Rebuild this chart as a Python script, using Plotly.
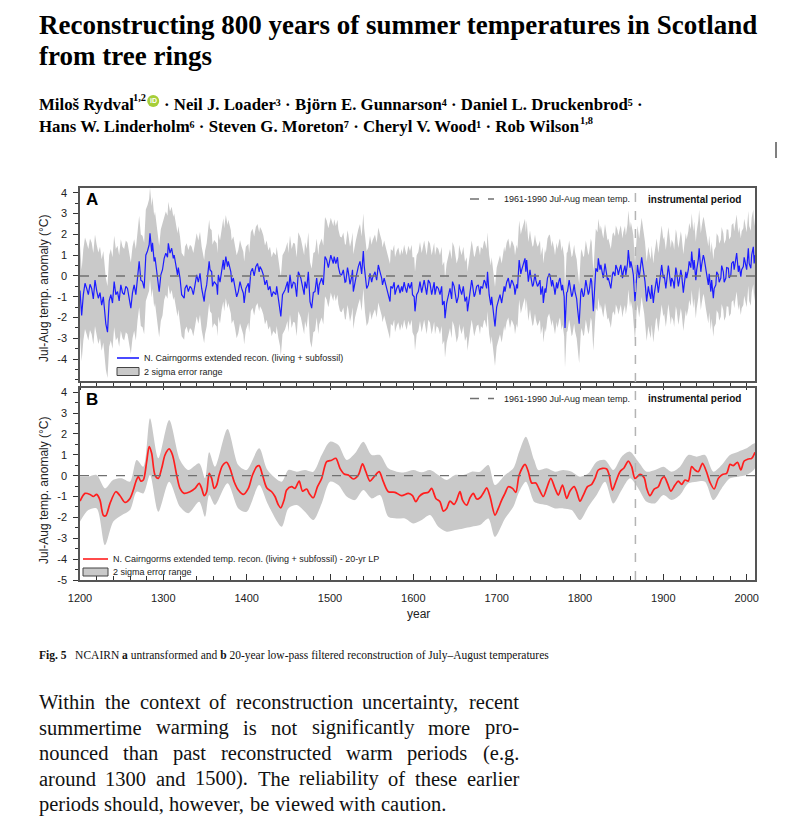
import plotly.graph_objects as go

W, H = 811, 829

# ---------------- data ----------------
years_a = [
    1200, 1202, 1204, 1206, 1208, 1210, 1212, 1214, 1216, 1218,
    1220, 1222, 1224, 1226, 1228, 1229, 1231, 1233, 1235, 1237,
    1239, 1241, 1243, 1245, 1247, 1249, 1251, 1253, 1255, 1257,
    1259, 1261, 1263, 1265, 1267, 1269, 1271, 1273, 1275, 1277,
    1279, 1281, 1283, 1284, 1286, 1287, 1289, 1290, 1292, 1293,
    1295, 1297, 1299, 1301, 1303, 1305, 1306, 1308, 1310, 1312,
    1313, 1315, 1317, 1318, 1320, 1322, 1325, 1326, 1328, 1330,
    1332, 1334, 1336, 1338, 1340, 1342, 1344, 1346, 1349, 1350,
    1352, 1355, 1356, 1358, 1359, 1361, 1364, 1365, 1366, 1368,
    1370, 1372, 1373, 1375, 1377, 1378, 1381, 1382, 1384, 1386,
    1388, 1390, 1392, 1394, 1396, 1397, 1399, 1402, 1403, 1405,
    1407, 1409, 1411, 1413, 1415, 1416, 1418, 1420, 1422, 1424,
    1426, 1428, 1430, 1432, 1435, 1436, 1438, 1440, 1441, 1443,
    1446, 1449, 1450, 1452, 1454, 1456, 1458, 1460, 1462, 1465,
    1467, 1469, 1470, 1472, 1474, 1476, 1478, 1480, 1482, 1484,
    1486, 1487, 1490, 1492, 1494, 1496, 1498, 1499, 1501, 1502,
    1504, 1505, 1507, 1509, 1510, 1512, 1514, 1516, 1518, 1519,
    1521, 1522, 1524, 1526, 1527, 1528, 1530, 1531, 1534, 1536,
    1538, 1540, 1541, 1542, 1544, 1546, 1548, 1550, 1551, 1553,
    1554, 1556, 1558, 1560, 1562, 1563, 1565, 1566, 1568, 1570,
    1572, 1573, 1575, 1577, 1578, 1580, 1582, 1584, 1586, 1587,
    1589, 1590, 1592, 1594, 1596, 1598, 1599, 1601, 1602, 1604,
    1606, 1608, 1610, 1611, 1613, 1614, 1616, 1618, 1620, 1622,
    1623, 1625, 1626, 1628, 1630, 1632, 1634, 1635, 1637, 1638,
    1640, 1642, 1644, 1646, 1647, 1649, 1650, 1652, 1654, 1655,
    1656, 1658, 1660, 1662, 1664, 1665, 1667, 1668, 1670, 1671,
    1673, 1674, 1676, 1678, 1680, 1681, 1683, 1685, 1686, 1688,
    1689, 1691, 1693, 1694, 1696, 1698, 1700, 1702, 1704, 1706,
    1707, 1709, 1710, 1712, 1714, 1716, 1718, 1719, 1721, 1722,
    1724, 1725, 1727, 1729, 1730, 1732, 1734, 1735, 1736, 1738,
    1740, 1741, 1743, 1744, 1746, 1747, 1749, 1750, 1752, 1753,
    1755, 1756, 1758, 1759, 1761, 1763, 1764, 1766, 1767, 1769,
    1770, 1772, 1773, 1775, 1776, 1778, 1779, 1781, 1782, 1784,
    1785, 1787, 1788, 1790, 1791, 1793, 1794, 1796, 1797, 1799,
    1801, 1802, 1804, 1805, 1807, 1808, 1810, 1811, 1813, 1814,
    1816, 1818, 1819, 1821, 1822, 1824, 1825, 1827, 1828, 1830,
    1831, 1833, 1834, 1836, 1837, 1839, 1840, 1842, 1843, 1845,
    1846, 1848, 1849, 1851, 1852, 1854, 1855, 1857, 1858, 1860,
    1861, 1863, 1864, 1866, 1868, 1869, 1871, 1872, 1874, 1875,
    1877, 1878, 1880, 1882, 1883, 1885, 1886, 1888, 1889, 1891,
    1892, 1894, 1895, 1897, 1898, 1900, 1901, 1903, 1904, 1906,
    1907, 1909, 1910, 1912, 1913, 1915, 1916, 1918, 1919, 1921,
    1922, 1924, 1925, 1927, 1928, 1930, 1931, 1933, 1934, 1936,
    1937, 1939, 1940, 1942, 1943, 1945, 1946, 1948, 1949, 1951,
    1952, 1954, 1955, 1957, 1958, 1960, 1961, 1963, 1964, 1966,
    1967, 1969, 1970, 1972, 1973, 1975, 1976, 1978, 1979, 1981,
    1982, 1984, 1985, 1987, 1988, 1990, 1991, 1993, 1994, 1996,
    1997, 1998, 2000, 2002, 2003, 2005, 2006, 2008, 2009, 2010,
]
temp_a = [
    -0.7, -1.9, -0.9, -0.35, -0.6, -0.9, -0.4, -0.6, -1.1, -0.2,
    -0.7, -1.07, -0.8, -1.4, -1.0, -1.55, -2.3, -2.7, -1.2, -0.9,
    -1.3, -0.27, -0.9, -0.75, -1.2, -0.43, -0.8, -0.9, -0.5, -0.6,
    -1.1, -1.55, -0.8, -0.43, -0.9, 0.05, 0.7, -0.2, -0.27, -0.6,
    1.0, 1.2, 1.5, 2.05, 1.17, 1.6, 0.7, 0.9, 0.2, -0.1,
    -0.75, 0.05, 0.3, 0.85, 1.1, 0.9, 1.57, 1.1, 1.33, 0.85,
    1.0, 0.53, 0.05, 0.4, -0.1, -0.9, -1.07, -0.6, -0.43, -0.75,
    -0.5, -0.6, -0.9, -0.43, 0.05, -0.3, 0.13, -0.6, -1.23, -0.8,
    -0.43, 0.7, 0.3, 0.2, -0.5, -0.27, -0.43, -0.9, 0.05, -0.3,
    0.37, 0.77, 0.3, 0.93, 0.45, 0.7, 0.2, -0.3, -0.1, -0.5,
    -1.0, -0.75, -0.27, -0.6, -0.83, -1.3, -0.6, -0.35, -0.8, 0.2,
    0.37, 0.0, 0.45, 0.6, 0.2, 0.45, 0.3, 0.05, -0.43, -0.2,
    -0.67, -0.5, -1.0, -0.75, -0.9, -0.5, -1.07, -1.47, -1.95, -0.9,
    -0.67, -0.27, -0.8, 0.05, -0.6, -0.3, -0.35, -1.0, 0.2, -0.1,
    -0.43, -0.9, -0.27, -0.6, 0.2, -1.23, -1.55, -0.8, -0.75, -0.1,
    -0.9, -0.43, -0.1, -0.43, 0.93, 0.77, 0.4, 0.6, 1.0, 0.85,
    0.6, 0.93, 0.6, 0.9, 0.45, 0.1, 0.05, 0.29, -0.3, -0.27,
    0.4, 0.2, -0.4, -0.03, 0.3, -0.75, -0.2, -0.1, 0.45, 0.7,
    0.1, 1.2, 0.5, 0.05, -0.6, -0.43, 0.13, -0.3, -0.1, 0.1,
    0.2, -0.2, 0.53, 0.2, -0.1, -0.43, -0.1, -0.27, -0.6, -0.9,
    -1.23, -0.5, -0.6, -0.3, -0.9, -0.6, -0.43, -0.83, -0.5, -0.75,
    -0.3, -0.5, -0.8, -0.35, -0.6, -0.3, -0.9, -1.0, -1.7, -0.9,
    -0.75, -0.27, -0.8, -0.6, -0.2, -0.43, -0.9, -0.2, -0.35, -0.9,
    -0.67, -0.3, -0.9, -0.5, -0.6, -0.9, -0.5, -1.4, -1.2, -2.03,
    -1.3, -0.9, -0.6, -1.1, -0.27, -0.5, -0.75, -1.3, -1.0, -0.4,
    -0.6, -0.9, -0.5, -1.23, -1.0, -1.7, -1.1, -0.75, -0.2, -0.43,
    -1.0, -0.9, -0.5, -0.43, -0.9, -0.5, -0.6, -0.2, -0.27, -0.6,
    0.2, -0.9, -1.4, -1.0, -1.63, -2.43, -1.5, -1.23, -0.9, -1.3,
    -1.07, -0.5, -0.75, -0.3, -0.1, -0.6, -0.2, -0.27, -0.5, -0.9,
    -0.4, -0.6, 0.77, 0.1, 0.29, 0.6, 0.85, 0.2, 0.77, -0.27,
    0.3, -0.03, -0.5, -0.43, 0.1, -0.2, -0.5, -0.43, -0.2, -0.9,
    -0.5, -1.3, -0.6, -0.8, -0.1, 0.1, 0.05, -0.5, -0.2, -0.6,
    -0.9, -0.3, -0.6, -0.2, -0.1, -0.7, -0.43, -1.0, -2.5, -0.8,
    -0.75, -0.2, -0.43, -1.0, -0.9, -0.4, -0.75, -1.1, -1.55, -2.3,
    -0.8, -0.6, -1.0, -0.9, -0.2, -0.43, -0.9, -0.75, -0.1, -0.27,
    -1.7, -0.3, 0.37, 0.2, 0.85, 0.3, 0.53, 0.1, -0.1, 0.6,
    0.37, -0.2, -0.1, -0.4, -0.6, 0.1, 0.2, 0.0, 0.53, 0.3,
    0.05, 0.4, 0.53, -0.1, 0.2, 0.5, 0.05, 0.6, 1.25, 0.4,
    0.7, 0.3, 0.05, -1.23, 0.2, 0.53, -0.1, 0.2, 0.9, 0.6,
    0.1, -0.27, -1.23, -0.5, -0.75, -1.1, -0.43, -1.3, -0.9, -0.2,
    -0.1, -0.8, -0.43, 0.1, 0.53, -0.1, 0.05, -0.6, -0.27, 0.5,
    0.2, -0.5, -0.1, -0.3, -0.6, 0.4, 0.2, -0.5, -0.27, 0.3,
    0.05, -0.8, -0.43, 0.2, -0.1, 0.3, 0.7, 0.4, 1.17, 0.3,
    0.77, -0.2, 0.29, 0.8, 1.33, 0.2, 0.53, 1.0, 0.85, 0.3,
    0.2, -0.43, 0.1, -0.75, -0.2, -1.07, -0.6, -0.43, 0.2, 0.05,
    -0.3, -0.1, 0.5, 0.2, -0.3, -0.1, 0.4, 0.37, -0.1, 0.05,
    0.6, 0.7, 0.3, 0.85, 1.1, 0.2, 0.5, -0.03, 0.3, 0.45,
    0.9, 0.7, 0.3, 1.33, 0.6, 0.37, 1.0, 1.4, 0.6, 1.0,
]
# half width of the 2-sigma band, per century
err_a_from = [1200, 1300, 1400, 1500, 1600, 1700, 1800, 1900, 2000]
err_a_half = [2.2, 2.0, 1.9, 1.8, 1.9, 1.9, 1.9, 1.85, 1.8]

years_b = [
    1200, 1206, 1212, 1216, 1220, 1224, 1228, 1231, 1236, 1243,
    1248, 1254, 1260, 1264, 1267, 1270, 1273, 1276, 1280, 1283,
    1286, 1290, 1294, 1298, 1302, 1307, 1311, 1316, 1320, 1325,
    1332, 1338, 1343, 1346, 1349, 1352, 1355, 1358, 1361, 1364,
    1367, 1371, 1376, 1380, 1385, 1390, 1396, 1402, 1407, 1412,
    1415, 1419, 1424, 1430, 1434, 1438, 1441, 1445, 1448, 1454,
    1458, 1463, 1467, 1472, 1475, 1480, 1485, 1490, 1496, 1502,
    1507, 1512, 1517, 1522, 1528, 1534, 1539, 1543, 1548, 1553,
    1559, 1564, 1570, 1578, 1586, 1594, 1599, 1603, 1607, 1612,
    1618, 1622, 1627, 1632, 1636, 1640, 1644, 1649, 1652, 1656,
    1659, 1664, 1668, 1672, 1676, 1680, 1685, 1688, 1692, 1698,
    1702, 1706, 1710, 1714, 1719, 1723, 1727, 1734, 1738, 1742,
    1747, 1751, 1756, 1760, 1765, 1770, 1774, 1779, 1784, 1788,
    1793, 1796, 1800, 1804, 1809, 1814, 1818, 1822, 1827, 1832,
    1835, 1839, 1843, 1848, 1853, 1858, 1862, 1866, 1872, 1877,
    1880, 1884, 1889, 1894, 1898, 1901, 1905, 1909, 1914, 1918,
    1922, 1926, 1930, 1934, 1938, 1942, 1947, 1952, 1956, 1961,
    1966, 1971, 1976, 1980, 1984, 1989, 1993, 1997, 2002, 2006,
    2010,
]
temp_b = [
    -1.22, -0.85, -0.9, -1.0, -0.9, -1.17, -1.9, -1.92, -1.33, -0.77,
    -0.96, -1.28, -1.09, -0.69, -0.29, -0.05, -0.26, -0.21, 0.67, 1.39,
    1.07, 0.03, -0.13, 0.35, 0.99, 1.28, 0.99, 0.03, -0.61, -0.85,
    -0.77, -0.61, -0.37, -0.61, -0.96, -0.77, 0.11, -0.13, -0.61, -0.45,
    0.03, 0.48, 0.64, 0.35, -0.29, -0.69, -0.9, -0.61, 0.03, 0.43,
    0.48, 0.03, -0.58, -0.77, -1.0, -1.4, -1.54, -1.15, -0.69, -0.53,
    -0.61, -0.26, -0.74, -0.64, -0.85, -1.06, -0.53, -0.13, 0.67, 0.74,
    0.83, 0.35, 0.08, 0.03, -0.16, 0.03, 0.56, 0.19, -0.26, -0.05,
    0.19, -0.29, -0.77, -0.8, -0.96, -0.85, -0.96, -1.25, -1.0, -0.85,
    -0.8, -0.61, -1.09, -1.25, -1.7, -1.57, -1.22, -1.38, -1.17, -0.77,
    -1.17, -1.41, -1.06, -0.85, -1.12, -1.06, -0.77, -0.58, -1.0, -1.89,
    -1.57, -1.17, -0.85, -0.53, -0.61, -0.8, 0.03, 0.54, 0.19, -0.35,
    -0.35, -0.65, -1.0, -0.61, -0.13, -0.61, -0.93, -0.45, -1.09, -0.74,
    -0.53, -0.77, -1.22, -0.93, -0.53, -0.42, -0.13, 0.27, 0.35, 0.32,
    0.03, -0.69, -0.29, 0.19, 0.38, 0.7, 0.43, -0.13, 0.06, -0.1,
    -0.61, -0.96, -0.64, -0.53, -0.16, -0.05, -0.37, -0.74, -0.45, -0.26,
    -0.42, -0.21, -0.26, 0.43, 0.27, 0.19, 0.59, 0.16, -0.32, -0.64,
    -0.13, 0.06, 0.11, 0.54, 0.48, 0.64, 0.27, 0.7, 0.8, 0.83,
    1.12,
]
band_years_b = [
    1200, 1210, 1220, 1230, 1240, 1250, 1260, 1268, 1276, 1284,
    1294, 1307, 1320, 1330, 1343, 1350, 1355, 1362, 1377, 1390,
    1400, 1415, 1425, 1442, 1450, 1460, 1470, 1480, 1490, 1500,
    1510, 1520, 1530, 1540, 1550, 1560, 1570, 1580, 1590, 1600,
    1610, 1620, 1630, 1640, 1650, 1660, 1670, 1680, 1690, 1698,
    1710, 1720, 1727, 1735, 1745, 1750, 1760, 1770, 1780, 1790,
    1800, 1810, 1820, 1830, 1840, 1850, 1860, 1870, 1880, 1890,
    1900, 1910, 1920, 1930, 1940, 1950, 1960, 1970, 1980, 1990,
    2000, 2010,
]
band_up_b = [
    -0.05, -0.05, 0.03, -0.61, -0.2, -0.13, -0.29, 0.75, 0.43, 2.75,
    0.83, 2.67, 0.75, 0.27, 0.59, -0.13, 1.12, 0.43, 2.24, 0.51,
    0.27, 1.31, 0.27, -0.29, 0.27, 0.19, 0.27, 0.19, 0.99, 1.63,
    1.47, 0.75, 1.07, 1.63, 0.99, 0.99, 0.35, 0.19, 0.16, 0.27,
    0.16, 0.27, 0.03, -0.21, 0.03, 0.03, 0.19, 0.19, 0.51, -0.45,
    0.03, 0.35, 1.15, 1.87, 0.75, 0.27, 0.35, 0.19, 0.27, 0.19,
    -0.05, 0.11, 0.67, 0.75, 0.27, 0.91, 1.15, 0.67, 0.19, 0.27,
    0.43, 0.19, 0.43, 0.99, 0.91, 0.99, 0.19, 0.51, 0.99, 1.15,
    1.31, 1.55,
]
band_lo_b = [
    -2.2, -1.65, -1.57, -3.33, -2.2, -1.9, -1.65, -0.77, -0.85, 0.03,
    -1.73, -0.29, -1.49, -1.8, -1.25, -1.97, -0.93, -1.41, -0.37, -1.57,
    -1.73, -0.45, -1.33, -2.45, -1.57, -1.41, -1.73, -2.13, -1.33, -0.29,
    -0.45, -1.0, -1.17, -0.69, -1.09, -0.93, -1.97, -2.05, -2.05, -2.29,
    -2.13, -1.89, -2.45, -2.69, -2.61, -2.53, -2.45, -2.37, -2.05, -2.93,
    -2.05, -1.49, -0.77, -0.29, -1.25, -1.33, -1.41, -1.57, -1.57, -1.65,
    -2.13, -1.49, -0.93, -0.29, -1.33, -0.69, -0.13, -0.61, -1.25, -1.33,
    -0.93, -1.17, -0.93, -0.37, -0.29, -0.29, -1.17, -0.61, -0.13, -0.05,
    0.03, 0.35,
]
ref_mean = 0.0              # 1961-1990 Jul-Aug mean
instrumental_start = 1866.5
x_tick_vals = [1200, 1300, 1400, 1500, 1600, 1700, 1800, 1900, 2000]
y_ticks_a = [-4, -3, -2, -1, 0, 1, 2, 3, 4]
y_ticks_b = [-5, -4, -3, -2, -1, 0, 1, 2, 3, 4]

assert len(years_a) == len(temp_a)
assert len(years_b) == len(temp_b)
assert len(band_years_b) == len(band_up_b) == len(band_lo_b)


def half_err(year):
    h = err_a_half[0]
    for start, v in zip(err_a_from, err_a_half):
        if year >= start:
            h = v
    return h


upper_a = [v + half_err(y) for y, v in zip(years_a, temp_a)]
lower_a = [v - half_err(y) for y, v in zip(years_a, temp_a)]


# ---------------- helpers (pixel -> paper) ----------------
def px(x):
    return x / W


def py(y):
    return 1 - y / H


SANS = "Liberation Sans"
SERIF = "Liberation Serif"
GRAY_FILL = "#c9c9c9"
FRAME = "#555555"

fig = go.Figure()

# panel A
fig.add_trace(go.Scatter(
    x=years_a + years_a[::-1], y=upper_a + lower_a[::-1],
    fill="toself", fillcolor=GRAY_FILL, line=dict(width=0),
    mode="lines", hoverinfo="skip", showlegend=False, xaxis="x", yaxis="y"))
fig.add_trace(go.Scatter(
    x=years_a, y=temp_a, mode="lines",
    line=dict(color="#1c1cff", width=1.2),
    showlegend=False, xaxis="x", yaxis="y"))

# panel B
fig.add_trace(go.Scatter(
    x=band_years_b + band_years_b[::-1], y=band_up_b + band_lo_b[::-1],
    fill="toself", fillcolor=GRAY_FILL, line=dict(width=0, shape="spline", smoothing=0.8),
    mode="lines", hoverinfo="skip", showlegend=False, xaxis="x2", yaxis="y2"))
fig.add_trace(go.Scatter(
    x=years_b, y=temp_b, mode="lines",
    line=dict(color="#ff1e1e", width=1.7, shape="spline", smoothing=0.8),
    showlegend=False, xaxis="x2", yaxis="y2"))

xdom = [px(80), px(755)]
ydom_a = [py(381), py(188)]
ydom_b = [py(580), py(388)]

tickfont = dict(family=SANS, size=11, color="#222")


def ylabels(vals):
    return [str(v) for v in vals]


fig.update_layout(
    width=W, height=H, autosize=False,
    margin=dict(l=0, r=0, t=0, b=0, pad=0, autoexpand=False),
    paper_bgcolor="white", plot_bgcolor="white",
    showlegend=False,
    xaxis=dict(domain=xdom, range=[1200, 2010], anchor="y", automargin=False,
               showline=True, linecolor=FRAME, linewidth=1.5, mirror=True,
               ticks="outside", tickvals=x_tick_vals, ticklen=7, tickwidth=1.2,
               tickcolor="#333", showticklabels=False,
               minor=dict(dtick=20, tick0=1200, ticks="outside", ticklen=5,
                          tickwidth=1, tickcolor="#333"),
               showgrid=False, zeroline=False),
    yaxis=dict(domain=ydom_a, range=[-5.05, 4.23], anchor="x", automargin=False,
               showline=True, linecolor=FRAME, linewidth=1.5, mirror=True,
               ticks="outside", tickvals=y_ticks_a, ticktext=ylabels(y_ticks_a),
               ticklen=5, tickwidth=1, tickcolor="#333", tickfont=tickfont,
               ticklabelstandoff=4,
               minor=dict(dtick=0.5, tick0=0, ticks="outside", ticklen=3,
                          tickwidth=1, tickcolor="#333"),
               showgrid=False, zeroline=False),
    xaxis2=dict(domain=xdom, range=[1200, 2010], anchor="y2", automargin=False,
                showline=True, linecolor=FRAME, linewidth=1.5, mirror=True,
                ticks="inside", tickvals=x_tick_vals, ticklen=6, tickwidth=1.2,
                tickcolor="#333", tickfont=tickfont, ticklabelstandoff=7,
                minor=dict(dtick=20, tick0=1200, ticks="inside", ticklen=4,
                           tickwidth=1, tickcolor="#333"),
                showgrid=False, zeroline=False),
    yaxis2=dict(domain=ydom_b, range=[-5.0, 4.2], anchor="x2", automargin=False,
                showline=True, linecolor=FRAME, linewidth=1.5, mirror=True,
                ticks="outside", tickvals=y_ticks_b, ticktext=ylabels(y_ticks_b),
                ticklen=5, tickwidth=1, tickcolor="#333", tickfont=tickfont,
                ticklabelstandoff=4,
                minor=dict(dtick=0.5, tick0=0, ticks="outside", ticklen=3,
                           tickwidth=1, tickcolor="#333"),
                showgrid=False, zeroline=False),
)

shapes = []
# reference mean lines
for xr, yr in (("x", "y"), ("x2", "y2")):
    shapes.append(dict(type="line", xref=xr, yref=yr, x0=1200, x1=2010,
                       y0=ref_mean, y1=ref_mean, layer="above",
                       line=dict(color="#707070", width=1.4, dash="dash")))
# instrumental period boundary
shapes.append(dict(type="line", xref="x", yref="paper",
                   x0=instrumental_start, x1=instrumental_start,
                   y0=py(580), y1=py(188), layer="above",
                   line=dict(color="#b4b4b4", width=1.5, dash="dash")))

annotations = []


def ann(text, x, y, size, family=SANS, color="#1a1a1a", xanchor="left",
        yanchor="middle", weight="normal", **kw):
    annotations.append(dict(text=text, x=px(x), y=py(y), xref="paper",
                            yref="paper", showarrow=False, xanchor=xanchor,
                            yanchor=yanchor, borderpad=0,
                            font=dict(family=family, size=size, color=color,
                                      weight=weight),
                            **kw))


# legends inside the panels
def legend_block(x0, x1, yline, ybox, color, label):
    shapes.append(dict(type="line", xref="paper", yref="paper",
                       x0=px(x0), x1=px(x1), y0=py(yline), y1=py(yline),
                       line=dict(color=color, width=1.6)))
    shapes.append(dict(type="rect", xref="paper", yref="paper",
                       x0=px(x0), x1=px(x1), y0=py(ybox + 4), y1=py(ybox - 4),
                       fillcolor=GRAY_FILL, line=dict(color="#444", width=1)))
    ann(label, x1 + 4, yline, 9, color="#222")
    ann("2 sigma error range", x1 + 4, ybox, 9, color="#222")


legend_block(117, 139, 358, 371.5, "#1c1cff",
             "N. Cairngorms extended recon. (living + subfossil)")
legend_block(83, 108, 559, 572, "#ff1e1e",
             "N. Cairngorms extended temp. recon. (living + subfossil) - 20-yr LP")

for ytop in (199, 398.5):
    shapes.append(dict(type="line", xref="paper", yref="paper",
                       x0=px(470), x1=px(494), y0=py(ytop), y1=py(ytop),
                       line=dict(color="#707070", width=1.3, dash="dash")))
    ann("1961-1990 Jul-Aug mean temp.", 503, ytop, 9, color="#222")
    ann("instrumental period", 647, ytop, 10, color="#111", weight="bold")

ann("A", 85, 199, 17, color="#000", weight="bold")
ann("B", 85, 399, 17, color="#000", weight="bold")

ann("Jul-Aug temp. anomaly (°C)", 44, 288, 12, color="#222",
    xanchor="center", textangle=-90)
ann("Jul-Aug temp. anomaly (°C)", 44, 490, 12, color="#222",
    xanchor="center", textangle=-90)
ann("year", 418, 614, 12, color="#222", xanchor="center")

# ---------------- page text ----------------
ann("Reconstructing 800 years of summer temperatures in Scotland",
    38, 25, 27, family=SERIF, color="#000", weight="bold")
ann("from tree rings", 38, 56, 27, family=SERIF, color="#000", weight="bold")

# Times-Bold metrics, used to lay out the author line pieces
TIMES_B = {
    ' ': 250, '·': 250, '.': 250, ',': 250,
    'A': 722, 'B': 667, 'C': 722, 'D': 722, 'E': 667, 'G': 778, 'H': 778,
    'J': 500, 'L': 667, 'M': 944, 'N': 722, 'R': 722, 'S': 556, 'V': 722,
    'W': 1000,
    'a': 500, 'b': 556, 'c': 444, 'd': 556, 'e': 444, 'g': 500, 'h': 556,
    'i': 278, 'j': 333, 'k': 556, 'l': 278, 'm': 833, 'n': 556, 'o': 500,
    'r': 444, 's': 389, 't': 333, 'u': 556, 'v': 500, 'w': 722, 'y': 500,
    'ö': 500, 'š': 389,
}


def twb(s, fs):
    return sum(TIMES_B.get(c, 500) for c in s) * fs / 1000.0


auth_fs = 16.8
sup_fs = auth_fs * 0.62
sup_dy = 0.36 * auth_fs

# line 1: name, superscript "1,2", ORCID icon, then the rest (unicode superscripts)
x = 38.0
ann("Miloš Rydval", x, 104, auth_fs, family=SERIF, color="#000", weight="bold")
x += twb("Miloš Rydval", auth_fs) - 1.5
ann("1,2", x, 104 - sup_dy, sup_fs, family=SERIF, color="#000", weight="bold")
x += twb("1,2", sup_fs) + 2
shapes.append(dict(type="circle", xref="paper", yref="paper",
                   x0=px(x), x1=px(x + 12), y0=py(107), y1=py(95),
                   fillcolor="#a6ce39", line=dict(width=0)))
ann("iD", x + 6, 100.7, 7, family=SANS, color="white", xanchor="center",
    weight="bold")
x += 12 + twb(" ", auth_fs)
ann("· Neil J. Loader\u00b3 · Björn E. Gunnarson\u2074 · "
    "Daniel L. Druckenbrod\u2075 ·", x, 104, auth_fs, family=SERIF,
    color="#000", weight="bold")

# line 2
line2 = ("Hans W. Linderholm\u2076 · Steven G. Moreton\u2077 · "
         "Cheryl V. Wood\u00b9 · Rob Wilson")
ann(line2, 38, 127, auth_fs, family=SERIF, color="#000", weight="bold")
x2 = 38 + twb("Hans W. Linderholm · Steven G. Moreton · Cheryl V. Wood · Rob Wilson",
              auth_fs) + 3 * twb("1", auth_fs * 0.6) - 2.0
ann("1,8", x2, 127 - sup_dy, sup_fs, family=SERIF, color="#000", weight="bold")

shapes.append(dict(type="line", xref="paper", yref="paper",
                   x0=px(776), x1=px(776), y0=py(158), y1=py(142),
                   line=dict(color="#000", width=1)))

ann("<b>Fig. 5</b>\u2002 NCAIRN <b>a</b> untransformed and <b>b</b> 20-year "
    "low-pass filtered reconstruction of July–August temperatures",
    38, 655, 11.5, family=SERIF, color="#111")

# body paragraph, justified with Times metrics
TIMES = {
    'a': 444, 'b': 500, 'c': 444, 'd': 500, 'e': 444, 'f': 333, 'g': 500,
    'h': 500, 'i': 278, 'j': 278, 'k': 500, 'l': 278, 'm': 778, 'n': 500,
    'o': 500, 'p': 500, 'q': 500, 'r': 333, 's': 389, 't': 278, 'u': 500,
    'v': 500, 'w': 722, 'x': 500, 'y': 500, 'z': 444, 'W': 944, 'T': 611,
    ',': 250, '.': 250, '(': 333, ')': 333, '-': 333, ' ': 250,
}


def tw(s, fs):
    return sum(TIMES.get(c, 500) for c in s) * fs / 1000.0


body_fs = 20.5
body_left, body_right = 38, 518
body_lines = [
    ("Within the context of reconstruction uncertainty, recent", True),
    ("summertime warming is not significantly more pro-", True),
    ("nounced than past reconstructed warm periods (e.g.", True),
    ("around 1300 and 1500). The reliability of these earlier", True),
    ("periods should, however, be viewed with caution.", False),
]
body_y0, body_dy = 702, 25.5
for i, (line, justify) in enumerate(body_lines):
    words = line.split(" ")
    widths = [tw(w, body_fs) for w in words]
    if justify:
        gap = (body_right - body_left - sum(widths)) / (len(words) - 1)
    else:
        gap = tw(" ", body_fs)
    x = body_left
    for w, wd in zip(words, widths):
        ann(w, x, body_y0 + i * body_dy, body_fs, family=SERIF, color="#111")
        x += wd + gap

fig.update_layout(shapes=shapes, annotations=annotations)

page_css = (
    "document.documentElement.style.margin='0';"
    "document.documentElement.style.overflow='hidden';"
    "document.body.style.margin='0';"
    "document.body.style.padding='0';"
    "document.body.style.overflow='hidden';"
)
fig.write_html("out.html", post_script=page_css,
               config={"displayModeBar": False, "responsive": False})
